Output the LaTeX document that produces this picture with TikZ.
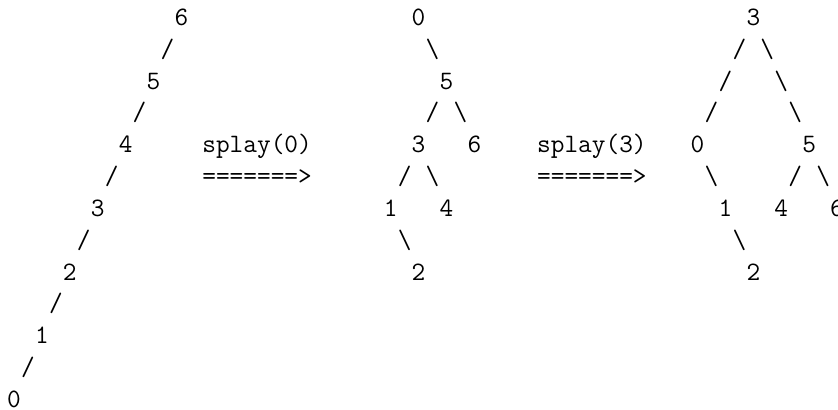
\documentclass[tikz,border=0pt]{standalone}
\usepackage{fontspec}
\newcommand\gl[4]{\node[glyph] (#1) at ({14+13.95*#2},{25.4+31.83*#3}) {#4};}
\newcommand\gw[4]{\node[glyph,anchor=base west] (#1) at ({7.03+13.95*#2},{25.4+31.83*#3}) {#4};}
\newcommand\bs{\textbackslash}
\begin{document}
\begin{tikzpicture}[x=0.5pt,y=-0.5pt,
  glyph/.style={inner sep=0pt,outer sep=0pt,anchor=base,
    font=\fontsize{13.29pt}{16pt}\selectfont\ttfamily}]
\useasboundingbox (0,0) rectangle (838,410);
% first tree (chain)
\gl{a6}{12}{0}{6}
\gl{a65}{11}{1}{/}
\gl{a5}{10}{2}{5}
\gl{a54}{9}{3}{/}
\gl{a4}{8}{4}{4}
\gl{a43}{7}{5}{/}
\gl{a3}{6}{6}{3}
\gl{a32}{5}{7}{/}
\gl{a2}{4}{8}{2}
\gl{a21}{3}{9}{/}
\gl{a1}{2}{10}{1}
\gl{a10}{1}{11}{/}
\gl{a0}{0}{12}{0}
% first arrow
\gw{op1}{14}{4}{splay(0)}
\gw{ar1}{14}{5}{=======>}
% second tree
\gl{b0}{29}{0}{0}
\gl{b05}{30}{1}{\bs}
\gl{b5}{31}{2}{5}
\gl{b53}{30}{3}{/}
\gl{b56}{32}{3}{\bs}
\gl{b3}{29}{4}{3}
\gl{b6}{33}{4}{6}
\gl{b31}{28}{5}{/}
\gl{b34}{30}{5}{\bs}
\gl{b1}{27}{6}{1}
\gl{b4}{31}{6}{4}
\gl{b12}{28}{7}{\bs}
\gl{b2}{29}{8}{2}
% second arrow
\gw{op2}{38}{4}{splay(3)}
\gw{ar2}{38}{5}{=======>}
% third tree
\gl{c3}{53}{0}{3}
\gl{c30a}{52}{1}{/}
\gl{c35a}{54}{1}{\bs}
\gl{c30b}{51}{2}{/}
\gl{c35b}{55}{2}{\bs}
\gl{c30c}{50}{3}{/}
\gl{c35c}{56}{3}{\bs}
\gl{c0}{49}{4}{0}
\gl{c5}{57}{4}{5}
\gl{c01}{50}{5}{\bs}
\gl{c54}{56}{5}{/}
\gl{c56}{58}{5}{\bs}
\gl{c1}{51}{6}{1}
\gl{c4}{55}{6}{4}
\gl{c6}{59}{6}{6}
\gl{c12}{52}{7}{\bs}
\gl{c2}{53}{8}{2}
\end{tikzpicture}
\end{document}
